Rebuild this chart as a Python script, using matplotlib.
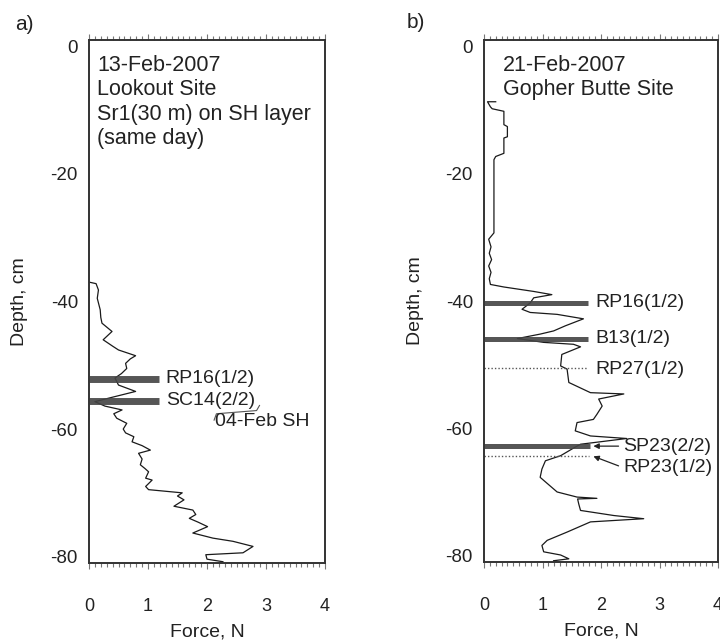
import matplotlib
matplotlib.use("Agg")
import matplotlib.pyplot as plt
from matplotlib.ticker import MultipleLocator

plt.rcParams['font.family'] = ['Liberation Sans', 'DejaVu Sans']
plt.rcParams['axes.unicode_minus'] = False

# ---- Panel a data (Lookout Site) ----
depth_a = [-37.0, -37.2, -38.2, -39.5, -41.3, -42.5, -43.4, -44.7, -46.0, -47.0, -47.6, -48.5,
           -49.0, -49.7, -50.5, -51.3, -52.0, -53.1, -54.1, -55.0, -55.7, -56.4, -57.0, -57.6,
           -58.3, -59.1, -60.0, -60.6, -61.2, -62.0, -62.6, -63.3, -63.8, -64.7, -65.6, -66.2,
           -66.7, -67.7, -68.0, -69.0, -69.5, -70.0, -70.5, -71.1, -72.1, -72.7, -73.4, -74.0,
           -74.6, -75.3, -76.3, -77.1, -77.6, -78.4, -79.4, -79.7, -80.4, -80.8]
force_a = [0.02, 0.12, 0.16, 0.14, 0.19, 0.20, 0.22, 0.39, 0.24, 0.40, 0.50, 0.79,
           0.70, 0.62, 0.64, 0.55, 0.44, 0.50, 0.79, 0.40, 0.10, 0.27, 0.56, 0.42,
           0.47, 0.64, 0.58, 0.62, 0.76, 0.73, 0.90, 1.04, 0.84, 0.90, 0.87, 0.95,
           1.01, 0.96, 1.07, 0.96, 1.01, 1.58, 1.50, 1.61, 1.44, 1.76, 1.81, 1.70,
           1.85, 2.01, 1.76, 2.10, 2.44, 2.78, 2.61, 1.98, 2.00, 2.27]

# ---- Panel b data (Gopher Butte Site) ----
depth_b = [-8.7, -8.7, -9.5, -9.8, -10.2, -12.3, -12.6, -14.2, -14.4, -16.8, -17.3, -17.8,
           -23.5, -29.3, -30.3, -31.5, -32.5, -33.5, -34.5, -35.5, -36.5, -37.4, -37.8, -38.5,
           -39.0, -39.5, -40.3, -41.3, -41.8, -42.1, -42.8, -43.9, -44.7, -45.2, -45.9, -46.5,
           -46.8, -47.2, -48.4, -50.2, -50.7, -52.8, -54.4, -54.6, -55.4, -56.5, -57.8, -58.6,
           -59.1, -60.4, -61.2, -61.6, -62.5, -63.0, -64.3, -65.1, -66.4, -67.7, -70.0, -70.8,
           -71.0, -71.1, -71.9, -72.9, -73.7, -74.2, -74.7, -76.3, -77.6, -78.4, -79.4, -79.9,
           -80.5, -80.8]
force_b = [0.20, 0.06, 0.11, 0.14, 0.34, 0.34, 0.40, 0.40, 0.34, 0.34, 0.20, 0.17,
           0.17, 0.17, 0.08, 0.12, 0.09, 0.13, 0.08, 0.12, 0.09, 0.11, 0.34, 0.85,
           1.16, 0.85, 0.79, 0.65, 0.79, 1.25, 1.70, 1.39, 1.19, 0.96, 0.57, 1.02,
           1.53, 1.65, 1.33, 1.31, 1.42, 1.45, 1.82, 2.39, 1.96, 2.02, 1.93, 1.87,
           1.59, 1.56, 1.82, 2.44, 1.65, 1.55, 1.31, 1.05, 0.99, 0.96, 1.25, 1.59,
           1.93, 1.60, 1.62, 1.65, 2.22, 2.73, 1.82, 1.42, 1.08, 0.99, 1.02, 1.31,
           1.45, 1.19]

# Layers: (label, depth, bar end force, style)
layers_a = [("RP16(1/2)", -52.1, 1.18, "solid"), ("SC14(2/2)", -55.6, 1.18, "solid")]
layers_b = [("RP16(1/2)", -40.3, 1.78, "solid"), ("B13(1/2)", -45.9, 1.78, "solid"),
            ("RP27(1/2)", -50.5, 1.78, "dotted"), ("SP23(2/2)", -62.7, 1.82, "solid"),
            ("RP23(1/2)", -64.3, 1.80, "dotted")]

xticks = [0, 1, 2, 3, 4]
yticks = [0, -20, -40, -60, -80]

fig = plt.figure(figsize=(7.2, 6.41), dpi=100)
W, H = 720, 641
ax1 = fig.add_axes([89 / W, (H - 563) / H, 236 / W, 523 / H])
ax2 = fig.add_axes([484 / W, (H - 562) / H, 234 / W, 522 / H])

txt_col = '#222222'
for ax, w in ((ax1, 236), (ax2, 234)):
    ax.set_xlim(0, 4)
    ax.set_ylim(-81, 1)
    ax.set_xticks(xticks)
    ax.set_yticks(yticks)
    ax.xaxis.set_minor_locator(MultipleLocator(0.1))
    ax.tick_params(axis='x', which='both', direction='out', top=True, bottom=True,
                   color='#777777', width=0.8)
    ax.tick_params(axis='x', which='major', length=4, pad=21, labelsize=13, labelcolor=txt_col)
    ax.tick_params(axis='x', which='minor', length=3)
    ax.tick_params(axis='y', length=0, pad=8, labelsize=13.5, labelcolor=txt_col)
    for s in ax.spines.values():
        s.set_linewidth(1.4)
        s.set_color('#333333')
    ax.set_ylabel("Depth, cm", fontsize=14, color=txt_col, va='center')
    ax.yaxis.set_label_coords(-69 / w, 0.5)
    ax.set_xlabel("Force, N", fontsize=14, color=txt_col, va='center')
    ax.xaxis.set_label_coords(0.5, -69 / 523)

# Panel a
ax1.plot(force_a, depth_a, color='#1a1a1a', lw=0.9)
for lab, d, xe, st in layers_a:
    ax1.plot([0, xe], [d, d], color='#444444', lw=5, solid_capstyle='butt', alpha=0.9)
    ax1.text(xe + 0.12, d, lab, fontsize=14, color=txt_col, va='center', ha='left')
ax1.text(2.14, -58.8, "04-Feb SH", fontsize=14, color=txt_col, va='center', ha='left')
bracket_f = [2.12, 2.16, 2.84, 2.89]
bracket_d = [-58.6, -57.6, -57.1, -56.3]
ax1.plot(bracket_f, bracket_d, color='#555555', lw=0.8)
ax1.text(0.034, 0.972, "13-Feb-2007\nLookout Site\nSr1(30 m) on SH layer\n(same day)",
         transform=ax1.transAxes, fontsize=15.5, color=txt_col, va='top', ha='left',
         linespacing=1.22)

# Panel b
ax2.plot(force_b, depth_b, color='#1a1a1a', lw=0.9)
for lab, d, xe, st in layers_b:
    if st == "solid":
        ax2.plot([0, xe], [d, d], color='#444444', lw=3.6, solid_capstyle='butt', alpha=0.9)
    else:
        ax2.plot([0, xe], [d, d], color='#555555', lw=1.0, ls=(0, (1, 1.5)))
label_pos_b = {"RP16(1/2)": (1.90, -40.3), "B13(1/2)": (1.90, -45.9),
               "RP27(1/2)": (1.90, -50.7), "SP23(2/2)": (2.38, -62.9),
               "RP23(1/2)": (2.38, -66.2)}
for lab, (xt, yt) in label_pos_b.items():
    ax2.text(xt, yt, lab, fontsize=14, color=txt_col, va='center', ha='left')
ax2.annotate("", xy=(1.87, -62.8), xytext=(2.30, -62.8),
             arrowprops=dict(arrowstyle='-|>', color='#222222', lw=0.9,
                             mutation_scale=8, shrinkA=0, shrinkB=0))
ax2.annotate("", xy=(1.87, -64.4), xytext=(2.30, -65.9),
             arrowprops=dict(arrowstyle='-|>', color='#222222', lw=0.9,
                             mutation_scale=8, shrinkA=0, shrinkB=0))
ax2.text(0.081, 0.972, "21-Feb-2007\nGopher Butte Site",
         transform=ax2.transAxes, fontsize=15.5, color=txt_col, va='top', ha='left',
         linespacing=1.22)

# Panel letters and caption
fig.text(15 / W, 1 - 24 / H, "a)", fontsize=15, color=txt_col, va='center', ha='left')
fig.text(407 / W, 1 - 22 / H, "b)", fontsize=15, color=txt_col, va='center', ha='left')
fig.text(328 / W, 0.5 / H, "Figure 3", fontsize=15, color=txt_col, va='top', ha='left',
         family=['Liberation Serif', 'DejaVu Serif'])

fig.savefig("out.png", dpi=100)
